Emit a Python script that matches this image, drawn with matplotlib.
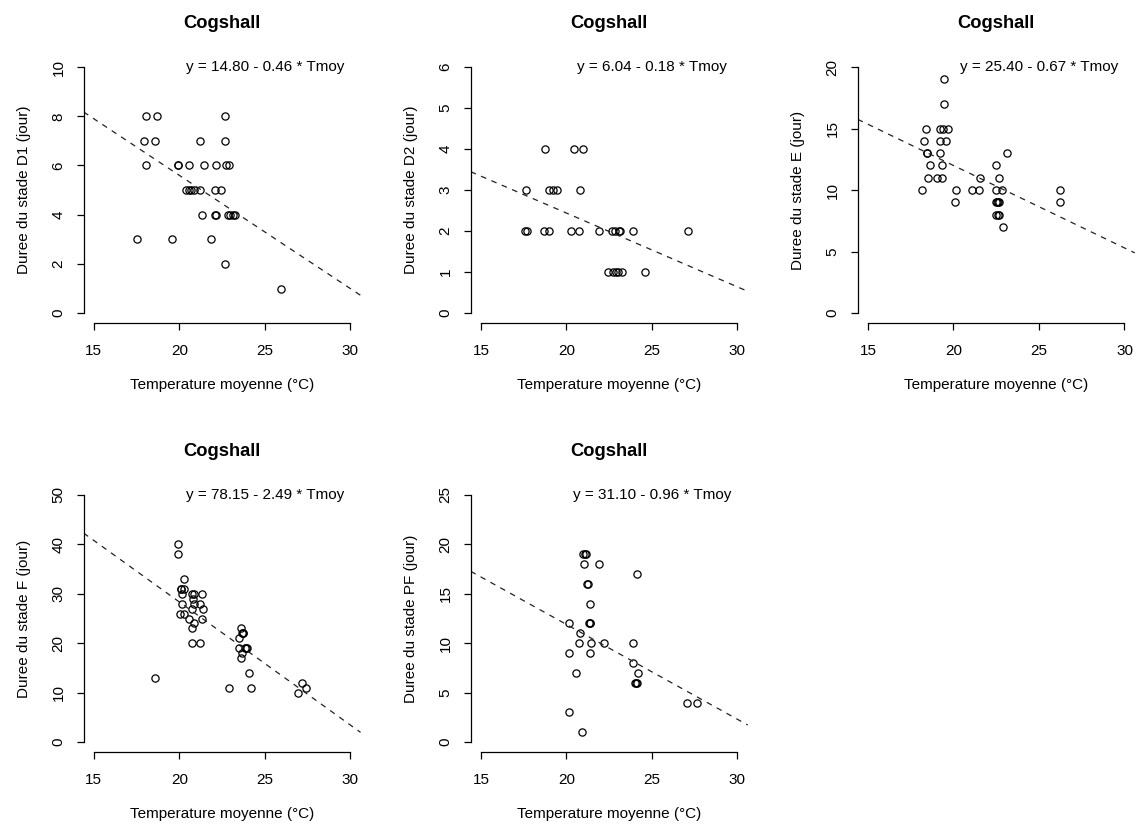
import matplotlib
matplotlib.use("Agg")
import matplotlib.pyplot as plt
import numpy as np

plt.rcParams['font.family'] = ['Liberation Sans', 'DejaVu Sans']

title = "Cogshall"
xlabel = "Temperature moyenne (°C)"
xticks = [15, 20, 25, 30]

# Panel 1: stade D1
d1_x = [18.04, 18.68, 22.70, 17.96, 18.60, 21.23, 22.68,
        18.03, 19.90, 19.95, 20.57, 21.47, 22.17, 22.74, 22.88,
        20.42, 20.55, 20.69, 20.84, 21.23, 22.07, 22.44,
        21.30, 22.11, 22.17, 22.84, 22.97, 23.12, 23.26,
        17.53, 19.60, 21.88, 22.66, 25.97]
d1_y = [8, 8, 8, 7, 7, 7, 7,
        6, 6, 6, 6, 6, 6, 6, 6,
        5, 5, 5, 5, 5, 5, 5,
        4, 4, 4, 4, 4, 4, 4,
        3, 3, 3, 2, 1]

# Panel 2: stade D2
d2_x = [18.73, 20.47, 20.98,
        17.62, 18.96, 19.20, 19.45, 20.82,
        17.60, 17.70, 18.71, 18.96, 20.27, 20.76, 21.88, 22.64, 22.81, 23.08, 23.13, 23.91, 27.11,
        22.44, 22.73, 22.87, 23.01, 23.26, 24.59]
d2_y = [4, 4, 4,
        3, 3, 3, 3, 3,
        2, 2, 2, 2, 2, 2, 2, 2, 2, 2, 2, 2, 2,
        1, 1, 1, 1, 1, 1]

# Panel 3: stade E
e_x = [19.42, 19.42,
       18.37, 19.23, 19.38, 19.66,
       18.29, 19.19, 19.58,
       18.43, 18.47, 19.19, 23.14,
       18.60, 19.34, 22.46,
       18.53, 19.03, 19.34, 21.57, 22.64,
       18.14, 20.16, 21.06, 21.49, 22.46, 22.83, 26.24,
       20.08, 22.46, 22.54, 22.60, 22.64, 26.24,
       22.50, 22.60, 22.64,
       22.87]
e_y = [19, 17,
       15, 15, 15, 15,
       14, 14, 14,
       13, 13, 13, 13,
       12, 12, 12,
       11, 11, 11, 11, 11,
       10, 10, 10, 10, 10, 10, 10,
       9, 9, 9, 9, 9, 9,
       8, 8, 8,
       7]

# Panel 4: stade F
f_x = [19.91, 19.91, 20.26, 20.08, 20.12, 20.30, 20.16, 20.77, 20.84, 21.31,
       20.80, 20.18, 20.84, 21.23, 20.73, 21.39, 20.06, 20.26, 20.57, 21.31,
       20.84, 20.73, 20.73, 21.23, 18.55,
       23.59, 23.67, 23.71, 23.75, 23.49, 23.86, 23.92, 23.96, 23.49, 23.69, 23.59,
       24.10, 22.89, 24.18, 26.92, 27.20, 27.39]
f_y = [40, 38, 33, 31, 31, 31, 30, 30, 30, 30,
       29, 28, 28, 28, 27, 27, 26, 26, 25, 25,
       24, 23, 20, 20, 13,
       23, 22, 22, 22, 21, 19, 19, 19, 19, 18, 17,
       14, 11, 11, 10, 12, 11]

# Panel 5: stade PF
pf_x = [20.98, 21.08, 21.13, 21.05, 21.88, 24.10, 21.21, 21.25, 21.39,
        21.31, 21.36, 21.39, 20.14, 20.78, 20.72, 21.46, 22.19, 23.91,
        20.14, 21.39, 23.91, 24.18, 20.55, 23.98, 24.06, 24.14,
        27.03, 27.62, 20.14, 20.88]
pf_y = [19, 19, 19, 18, 18, 17, 16, 16, 14,
        12, 12, 12, 12, 11, 10, 10, 10, 10,
        9, 9, 8, 7, 7, 6, 6, 6,
        4, 4, 3, 1]

datasets_x = [d1_x, d2_x, e_x, f_x, pf_x]
datasets_y = [d1_y, d2_y, e_y, f_y, pf_y]
ylabels = ["Duree du stade D1 (jour)", "Duree du stade D2 (jour)",
           "Duree du stade E (jour)", "Duree du stade F (jour)",
           "Duree du stade PF (jour)"]
intercepts = [14.80, 6.04, 25.40, 78.15, 31.10]
slopes = [-0.46, -0.18, -0.67, -2.49, -0.96]
ymaxs = [10, 6, 20, 50, 25]
ysteps = [2, 1, 5, 10, 5]

fig = plt.figure(figsize=(11.37, 8.26), dpi=100)
fig.patch.set_facecolor('white')

lefts = [0.0735, 0.4140, 0.7544]
width = 0.2436
bottoms = [0.6090, 0.0897]
heights = [0.3217, 0.3230]
positions = [(lefts[0], bottoms[0]), (lefts[1], bottoms[0]), (lefts[2], bottoms[0]),
             (lefts[0], bottoms[1]), (lefts[1], bottoms[1])]
rowidx = [0, 0, 0, 1, 1]

FS = 11
for i in range(5):
    l, b = positions[i]
    h = heights[rowidx[i]]
    ax = fig.add_axes([l, b, width, h])
    x = np.array(datasets_x[i])
    y = np.array(datasets_y[i])
    ymax = ymaxs[i]
    xlo, xhi = 15 - 0.6, 30 + 0.6
    ylo, yhi = -0.04 * ymax, ymax * 1.04
    ax.set_xlim(xlo, xhi)
    ax.set_ylim(ylo, yhi)
    ax.plot(x, y, linestyle='none', marker='o', markersize=5.2,
            markerfacecolor='none', markeredgecolor='black', markeredgewidth=0.9)
    xx = np.array([xlo, xhi])
    ax.plot(xx, intercepts[i] + slopes[i] * xx, color='#222222', lw=0.9,
            linestyle=(0, (4.5, 4.5)))
    eq = "y = %.2f - %.2f * Tmoy" % (intercepts[i], -slopes[i])
    ax.text(25, ymax, eq, ha='center', va='center', fontsize=FS)

    yt = np.arange(0, ymax + 0.001, ysteps[i])
    ax.set_yticks(yt)
    ax.set_yticklabels([str(int(v)) for v in yt], rotation=90, va='center', ha='right')
    ax.set_xticks(xticks)
    ax.set_xticklabels([str(v) for v in xticks])
    ax.tick_params(axis='both', direction='out', length=5, width=0.9,
                   labelsize=FS, colors='black')
    ax.tick_params(axis='x', pad=10)
    ax.tick_params(axis='y', pad=8)
    for s in ['top', 'right']:
        ax.spines[s].set_visible(False)
    ax.spines['left'].set_bounds(0, ymax)
    ax.spines['bottom'].set_bounds(15, 30)
    ax.spines['left'].set_linewidth(0.9)
    ax.spines['bottom'].set_linewidth(0.9)
    ax.patch.set_visible(False)

    hpx = h * 826
    ax.set_xlabel(xlabel, fontsize=FS)
    ax.xaxis.label.set_va('center')
    ax.xaxis.set_label_coords(0.5, -62 / hpx)
    ax.set_ylabel(ylabels[i], fontsize=FS)
    ax.yaxis.label.set_va('center')
    ax.yaxis.set_label_coords(-60 / 277.0, 0.5)
    ax.set_title(title, fontsize=13.2, fontweight='bold', y=1 + 34 / hpx,
                 va='center', pad=0)

fig.savefig("out.png", dpi=100, facecolor='white')
